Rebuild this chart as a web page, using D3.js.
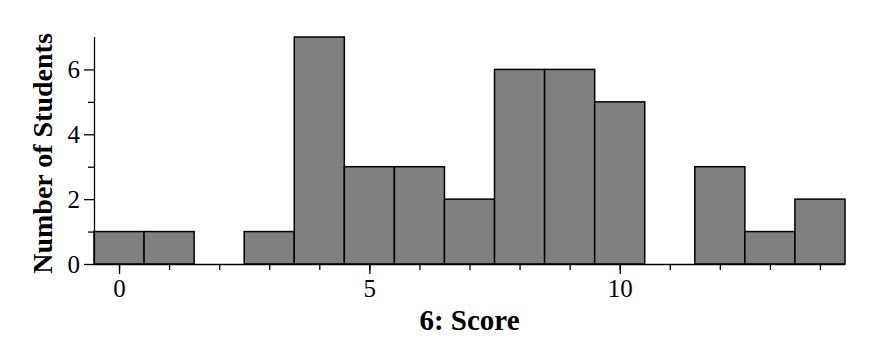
<!DOCTYPE html>
<html>
<head>
<meta charset="utf-8">
<script src="https://cdn.jsdelivr.net/npm/d3@7"></script>
<style>
  body { margin: 0; background: #fff; }
  svg text { font-family: "Liberation Serif", "Times New Roman", serif; }
</style>
</head>
<body>
<svg id="hist" width="873" height="350"></svg>
<script>
(() => {
    // histogram data: one bin per integer score
    const scores = [0, 1, 2, 3, 4, 5, 6, 7, 8, 9, 10, 11, 12, 13, 14];
    const counts = [1, 1, 0, 1, 7, 3, 3, 2, 6, 6, 5, 0, 3, 1, 2];
    const xMajorTicks = [0, 5, 10];
    const yMajorTicks = [0, 2, 4, 6];
    const yMinorTicks = [1, 3, 5];
    const xTitle = "6: Score";
    const yTitle = "Number of Students";

    const svg = d3.select("svg#hist");
    const left = 94, right = 845, top = 37, bottom = 264;

    const x = d3.scaleLinear().domain([-0.5, 14.5]).range([left, right]);
    const y = d3.scaleLinear().domain([0, 7]).range([bottom, top]);

    // bars
    svg.append("g")
        .selectAll("rect")
        .data(scores)
        .enter()
        .append("rect")
        .attr("x", (s) => x(s - 0.5))
        .attr("y", (s, i) => y(counts[i]))
        .attr("width", x(1) - x(0))
        .attr("height", (s, i) => bottom - y(counts[i]))
        .attr("fill", "#808080")
        .attr("stroke", "#000")
        .attr("stroke-width", 1.5);

    // x axis: minor ticks then major ticks with labels
    const xMinor = svg.append("g").attr("transform", `translate(0, ${bottom})`)
        .call(d3.axisBottom(x).tickValues(scores).tickSize(6).tickFormat("").tickSizeOuter(0));
    xMinor.select(".domain").remove();
    const xAxis = svg.append("g").attr("transform", `translate(0, ${bottom})`)
        .call(d3.axisBottom(x).tickValues(xMajorTicks).tickSize(10).tickPadding(5)
            .tickFormat(d3.format("d")).tickSizeOuter(0));
    xAxis.select(".domain").attr("d", `M${left},0.5H${right}`);

    // y axis
    const yMinor = svg.append("g").attr("transform", `translate(${left}, 0)`)
        .call(d3.axisLeft(y).tickValues(yMinorTicks).tickSize(6).tickFormat("").tickSizeOuter(0));
    yMinor.select(".domain").remove();
    const yAxis = svg.append("g").attr("transform", `translate(${left}, 0)`)
        .call(d3.axisLeft(y).tickValues(yMajorTicks).tickSize(10).tickPadding(4)
            .tickFormat(d3.format("d")).tickSizeOuter(0));
    yAxis.select(".domain").attr("d", `M0.5,${top}V${bottom}`);

    svg.selectAll("g").attr("font-family", null).attr("font-size", null);
    svg.selectAll(".tick text")
        .attr("font-family", "'Liberation Serif', serif")
        .style("font-size", "25px")
        .attr("fill", "#000");
    svg.selectAll(".tick line, .domain")
        .attr("stroke", "#000")
        .attr("stroke-width", 1.3);

    // titles
    svg.append("text")
        .attr("x", (left + right) / 2)
        .attr("y", 330)
        .attr("text-anchor", "middle")
        .style("font-size", "29px")
        .style("font-weight", "bold")
        .text(xTitle);

    svg.append("text")
        .attr("transform", `translate(52, ${(top + bottom) / 2 + 3}) rotate(-90)`)
        .attr("text-anchor", "middle")
        .style("font-size", "28px")
        .style("font-weight", "bold")
        .text(yTitle);
})();
</script>
</body>
</html>
